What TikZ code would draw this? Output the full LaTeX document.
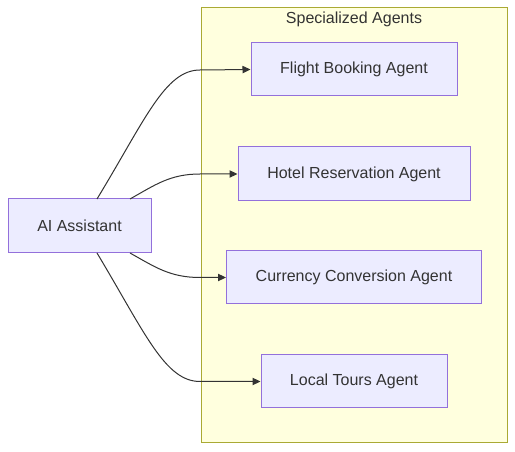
\documentclass[tikz,border=0pt]{standalone}
\usepackage{fontspec}
\setmainfont{Liberation Sans}
\usetikzlibrary{arrows.meta}
\definecolor{nodefill}{HTML}{ECECFF}
\definecolor{nodeborder}{HTML}{9370DB}
\definecolor{clusterfill}{HTML}{FFFFDE}
\definecolor{clusterborder}{HTML}{AAAA33}
\definecolor{txt}{HTML}{333333}
\begin{document}
\begin{tikzpicture}[x=0.75pt,y=-0.75pt,
  agent/.style={draw=nodeborder,fill=nodefill,line width=0.75pt,inner sep=0pt,text=txt,font=\fontsize{12}{14}\selectfont},
  link/.style={draw=txt,line width=0.75pt,-{Triangle[length=6pt,width=5.5pt]}}]
\useasboundingbox (0,0) rectangle (515,452);
\node[draw=clusterborder,fill=clusterfill,line width=0.75pt,minimum width=306*0.75pt,minimum height=435*0.75pt,inner sep=0pt] (cluster) at (354,225.5) {};
\node[text=txt,font=\fontsize{12}{14}\selectfont] (title) at (354,19) {Specialized Agents};
\node[agent,minimum width=143*0.75pt,minimum height=54*0.75pt] (ai) at (79.5,226) {AI Assistant};
\node[agent,minimum width=206*0.75pt,minimum height=53*0.75pt] (flight) at (354,69.5) {Flight Booking Agent};
\node[agent,minimum width=232*0.75pt,minimum height=54*0.75pt] (hotel) at (354,174) {Hotel Reservation Agent};
\node[agent,minimum width=255*0.75pt,minimum height=53*0.75pt] (currency) at (354,277.5) {Currency Conversion Agent};
\node[agent,minimum width=186*0.75pt,minimum height=53*0.75pt] (tours) at (354,381.5) {Local Tours Agent};
\coordinate (s1) at (97,199);
\coordinate (s2) at (130,199);
\coordinate (s3) at (130,253);
\coordinate (s4) at (97,253);
\draw[link] (s1) .. controls (145,120) and (165,70) .. (200,70) -- (flight.west);
\draw[link] (s2) .. controls (155,185) and (170,174) .. (200,174) -- (hotel.west);
\draw[link] (s3) .. controls (155,267) and (170,277.5) .. (200,277.5) -- (currency.west);
\draw[link] (s4) .. controls (145,333) and (165,381.5) .. (200,381.5) -- (tours.west);
\end{tikzpicture}
\end{document}
